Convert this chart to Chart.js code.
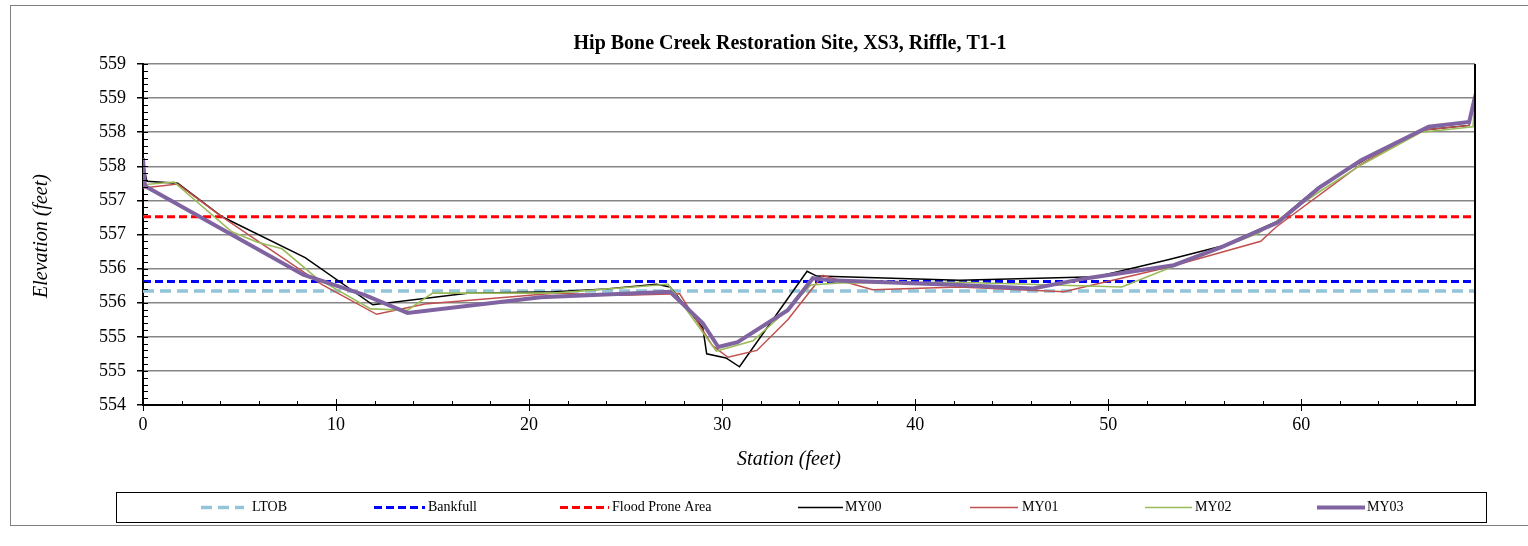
<!DOCTYPE html>
<html>
<head>
<meta charset="utf-8">
<script src="https://cdn.jsdelivr.net/npm/chart.js@4.4.0/dist/chart.umd.min.js"></script>
<style>
  body { margin: 0; background: #fff; }
  canvas { display: block; }
</style>
</head>
<body>
<canvas id="xsChart" width="1528" height="546"></canvas>
<script>
// Cross-section survey, station (ft) vs elevation (ft)
const chartTitle = 'Hip Bone Creek Restoration Site, XS3, Riffle, T1-1';

const refStation = [0, 69];
const ltobElev = [555.67, 555.67];
const bankfullElev = [555.81, 555.81];
const floodElev = [556.76, 556.76];

const my00Station = [0, 0.2, 1.8, 4.1, 8.4, 11.9, 16.8, 21.3, 24.0, 26.6, 27.3, 29.0, 29.2, 30.2, 30.9, 34.4, 34.9, 42.3, 49.4, 53.1, 55.9, 58.8, 60.9, 63.3, 66.2, 68.7, 69.0];
const my00Elev = [557.55, 557.28, 557.25, 556.76, 556.16, 555.47, 555.64, 555.66, 555.70, 555.77, 555.73, 555.13, 554.75, 554.69, 554.56, 555.96, 555.89, 555.83, 555.88, 556.13, 556.33, 556.70, 557.20, 557.60, 558.03, 558.10, 558.57];

const my01Station = [0, 1.8, 4.1, 9.3, 12.1, 14.6, 21.3, 24.9, 27.8, 29.5, 30.3, 31.8, 33.4, 35.2, 37.8, 42.3, 47.7, 53.1, 57.9, 58.7, 63.1, 66.2, 68.7, 69.0];
const my01Elev = [557.18, 557.24, 556.76, 555.76, 555.33, 555.48, 555.64, 555.61, 555.63, 554.87, 554.70, 554.80, 555.25, 555.90, 555.69, 555.73, 555.66, 556.02, 556.40, 556.61, 557.53, 558.03, 558.10, 558.60];

const my02Station = [0, 1.6, 4.6, 5.9, 7.2, 9.0, 11.8, 13.7, 15.0, 21.3, 27.2, 29.7, 31.6, 33.4, 34.6, 36.1, 42.3, 50.7, 53.1, 57.8, 60.9, 63.1, 66.2, 68.9, 69.0];
const my02Elev = [557.23, 557.27, 556.54, 556.39, 556.29, 555.86, 555.41, 555.39, 555.64, 555.64, 555.77, 554.79, 554.94, 555.40, 555.76, 555.79, 555.80, 555.73, 556.00, 556.52, 557.12, 557.52, 558.00, 558.08, 558.52];

const my03Station = [0, 0.1, 8.3, 11.5, 13.7, 20.6, 27.3, 29.0, 29.8, 30.8, 33.4, 34.7, 35.6, 42.3, 46.1, 48.9, 53.4, 55.9, 58.8, 60.9, 63.1, 66.6, 68.7, 69.0];
const my03Elev = [557.62, 557.21, 555.91, 555.61, 555.35, 555.58, 555.66, 555.20, 554.85, 554.92, 555.39, 555.86, 555.83, 555.76, 555.71, 555.86, 556.05, 556.32, 556.68, 557.18, 557.59, 558.08, 558.15, 558.52];

const xTickValues = [0, 10, 20, 30, 40, 50, 60];
const yTickValues = [554, 554.5, 555, 555.5, 556, 556.5, 557, 557.5, 558, 558.5, 559];

function pts(xs, ys) {
    return xs.map((x, i) => ({ x: x, y: ys[i] }));
}

const serif = '"Liberation Serif", "Times New Roman", serif';

// legend layout: sample start, sample end, text x
const legendSlots = [
    [201, 244, 252], [374, 425, 428], [560, 609, 612],
    [798, 843, 845], [970, 1018, 1022], [1145, 1192, 1195], [1317, 1365, 1367]
];

const extrasPlugin = {
    id: 'extras',
    afterDraw(chart) {
        const c = chart.ctx;
        const xs = chart.scales.x, ys = chart.scales.y;
        const area = chart.chartArea;
        c.save();

        // outer chart border
        c.strokeStyle = '#7f7f7f';
        c.lineWidth = 1;
        c.strokeRect(10.5, 5.5, 1530, 520);

        // right border of plot
        c.strokeStyle = '#000';
        c.lineWidth = 2;
        c.beginPath();
        c.moveTo(area.right, area.top);
        c.lineTo(area.right, area.bottom);
        c.stroke();

        // minor ticks
        c.lineWidth = 1;
        for (let v = 554; v <= 559.001; v += 0.1) {
            const py = Math.round(ys.getPixelForValue(v)) + 0.5;
            c.beginPath();
            c.moveTo(area.left, py);
            c.lineTo(area.left + 5, py);
            c.stroke();
        }
        for (let v = 0; v <= 69; v += 2) {
            const px = Math.round(xs.getPixelForValue(v)) + 0.5;
            const len = v % 10 === 0 ? 6 : 4;
            c.beginPath();
            c.moveTo(px, area.bottom);
            c.lineTo(px, area.bottom - len);
            c.stroke();
        }

        // chart title
        c.fillStyle = '#000';
        c.textAlign = 'center';
        c.textBaseline = 'middle';
        c.font = 'bold 20px ' + serif;
        c.fillText(chartTitle, 790, 44);

        // axis titles
        c.font = 'italic 20px ' + serif;
        c.fillText('Station (feet)', 789, 460);
        c.save();
        c.translate(42, 236);
        c.rotate(-Math.PI / 2);
        c.fillText('Elevation (feet)', 0, 0);
        c.restore();

        // legend box
        c.strokeStyle = '#000';
        c.lineWidth = 1;
        c.strokeRect(116.5, 492.5, 1370, 30);
        const ly = 507.5;
        const order = ['LTOB', 'Bankfull', 'Flood Prone Area', 'MY00', 'MY01', 'MY02', 'MY03'];
        c.font = '14px ' + serif;
        c.textAlign = 'left';
        order.forEach((name, i) => {
            const ds = chart.data.datasets.find(d => d.label === name);
            const slot = legendSlots[i];
            c.save();
            c.strokeStyle = ds.borderColor;
            c.lineWidth = ds.borderWidth;
            c.setLineDash(ds.borderDash || []);
            c.lineCap = ds.borderCapStyle || 'butt';
            c.beginPath();
            c.moveTo(slot[0], ly);
            c.lineTo(slot[1], ly);
            c.stroke();
            c.restore();
            c.fillStyle = '#000';
            c.fillText(name, slot[2], ly);
        });

        c.restore();
    }
};

const chart = new Chart(document.getElementById('xsChart'), {
    type: 'line',
    data: {
        datasets: [
            { label: 'LTOB', data: pts(refStation, ltobElev), borderColor: '#92C5DA', borderWidth: 3.5, borderDash: [11, 6], order: 7 },
            { label: 'Bankfull', data: pts(refStation, bankfullElev), borderColor: '#0000FF', borderWidth: 3, borderDash: [8, 4], order: 6 },
            { label: 'Flood Prone Area', data: pts(refStation, floodElev), borderColor: '#FF0000', borderWidth: 3, borderDash: [8, 4], order: 5 },
            { label: 'MY00', data: pts(my00Station, my00Elev), borderColor: '#000000', borderWidth: 1.5, order: 4 },
            { label: 'MY01', data: pts(my01Station, my01Elev), borderColor: '#C0504D', borderWidth: 1.5, order: 3 },
            { label: 'MY02', data: pts(my02Station, my02Elev), borderColor: '#9BBB59', borderWidth: 1.6, order: 2 },
            { label: 'MY03', data: pts(my03Station, my03Elev), borderColor: '#8064A2', borderWidth: 4, order: 1 }
        ]
    },
    options: {
        responsive: false,
        animation: false,
        parsing: true,
        layout: { padding: { left: 0, right: 53, top: 64, bottom: 81 } },
        elements: { point: { radius: 0 }, line: { tension: 0, fill: false } },
        plugins: { legend: { display: false }, title: { display: false }, tooltip: { enabled: false } },
        scales: {
            x: {
                type: 'linear',
                min: 0,
                max: 69,
                afterBuildTicks: s => { s.ticks = xTickValues.map(v => ({ value: v })); },
                afterFit: s => { s.height = 60; },
                grid: { drawOnChartArea: false, color: '#000', tickColor: '#000', tickLength: 6 },
                border: { color: '#000', width: 2 },
                ticks: { color: '#000', font: { family: serif, size: 18 }, padding: 3, maxRotation: 0 }
            },
            y: {
                type: 'linear',
                min: 554,
                max: 559,
                afterBuildTicks: s => { s.ticks = yTickValues.map(v => ({ value: v })); },
                afterFit: s => { s.width = 143; },
                grid: { color: '#868686', lineWidth: 1.5, tickColor: '#000', tickLength: 6 },
                border: { color: '#000', width: 2 },
                ticks: { color: '#000', font: { family: serif, size: 18 }, padding: 11,
                    callback: v => String(Math.round(v)) }
            }
        }
    },
    plugins: [extrasPlugin]
});
</script>
</body>
</html>
